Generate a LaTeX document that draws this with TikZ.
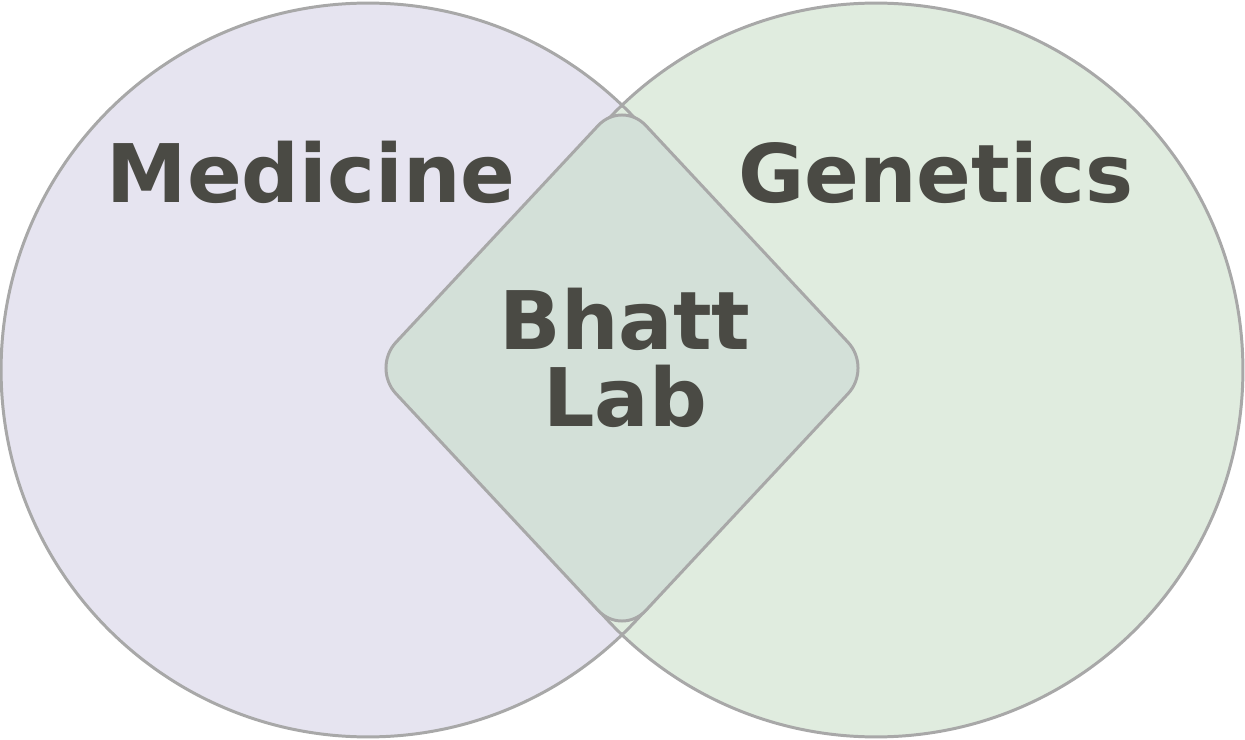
\documentclass[tikz,border=0pt]{standalone}
\usepackage{fontspec}
\setmainfont{DejaVu Sans}
\usetikzlibrary{positioning}
\definecolor{medfill}{HTML}{E6E4F0}
\definecolor{genfill}{HTML}{E0ECDF}
\definecolor{labfill}{HTML}{D3E0D8}
\definecolor{rimgray}{HTML}{A8A8A8}
\definecolor{textgray}{HTML}{4A4A44}
\tikzset{
  ring/.style={circle, minimum size=14.68cm, inner sep=0pt},
  field/.style={font=\bfseries\fontsize{46}{50}\selectfont, text=textgray},
}
\begin{document}
\begin{tikzpicture}[x=0.02cm, y=-0.02cm]
    \useasboundingbox (0,0) rectangle (1245,740);
    % Circles
    \node[ring, fill=medfill] (medicine) at (368,370) {};
    \node[ring, fill=genfill] (genetics) at (876,370) {};
    \draw[rimgray, line width=1.7pt] (medicine.center) circle (7.34cm);
    \draw[rimgray, line width=1.7pt] (genetics.center) circle (7.34cm);
    % Overlap
    \draw[rimgray, line width=1.7pt, fill=labfill, rounded corners=0.7cm]
        (622,100) -- (872,368) -- (622,636) -- (372,368) -- cycle;
    % Labels
    \node[field] (medtext) at (311,172) {Medicine};
    \node[field] (gentext) at (936,172) {Genetics};
    \node[field, align=center] (labtext) at (625,358) {Bhatt\\[-6pt]Lab};
\end{tikzpicture}
\end{document}
